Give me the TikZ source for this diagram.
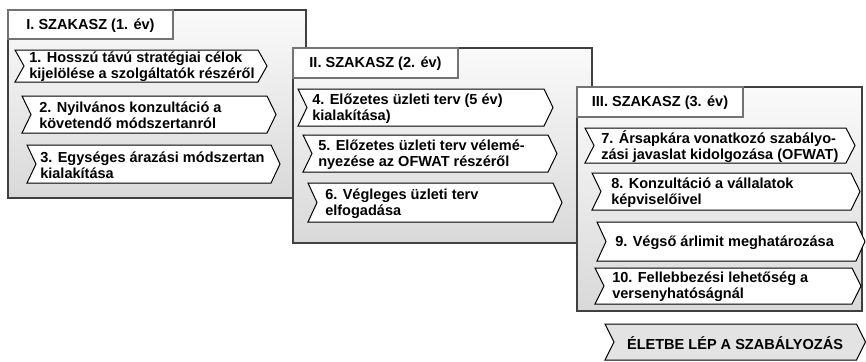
\documentclass[tikz,border=0pt]{standalone}
\usepackage{fontspec}
\setmainfont{Liberation Sans}
\begin{document}
\begin{tikzpicture}[x=0.75pt,y=-0.75pt,
  panel/.style={draw=black!75, line width=0.8pt, top color=gray!4, bottom color=gray!30},
  headbox/.style={draw=black!55, line width=0.8pt, fill=white},
  headtext/.style={font=\fontsize{10.9}{12}\selectfont\bfseries, inner sep=0pt},
  chev/.style={draw=black, line width=0.75pt, fill=white, line join=miter},
  chevtext/.style={font=\fontsize{10.9}{12}\selectfont\bfseries, anchor=west, align=left, inner sep=0pt},
  finalchev/.style={chev, fill=gray!22}
]
\useasboundingbox (0,0) rectangle (866,361);

% arrow-shaped step box: name, left, top, tip x, bottom, text x, text
\newcommand\chevbox[7]{%
  \draw[chev] (#2,#3) -- ({#4-9},#3) -- (#4,{(#3+#5)/2}) -- ({#4-9},#5)
    -- (#2,#5) -- ({#2+9},{(#3+#5)/2}) -- cycle;
  \node[chevtext] (#1) at (#6,{(#3+#5)/2+1}) {#7};
}
% stage panel with its heading tab: name, left, top, right, bottom, tab right, tab bottom, heading
\newcommand\stagepanel[8]{%
  \draw[panel] (#2,#3) rectangle (#4,#5);
  \draw[headbox] (#2,#3) rectangle (#6,#7);
  \node[headtext] (#1) at ({(#2+#6)/2},{(#3+#7)/2+1}) {#8};
}

% stage 1
\stagepanel{s1}{8}{10}{306}{198}{173}{39}{I. SZAKASZ (1. év)}
\chevbox{t1}{15}{50}{267}{82}{29}{1. Hosszú távú stratégiai célok\\kijelölése a szolgáltatók részéről}
\chevbox{t2}{22}{96}{276}{133}{39}{2. Nyilvános konzultáció a\\követendő módszertanról}
\chevbox{t3}{27}{145}{280}{183}{40}{3. Egységes árazási módszertan\\kialakítása}

% stage 2
\stagepanel{s2}{293}{48}{592}{243}{458}{78}{II. SZAKASZ (2. év)}
\chevbox{t4}{298}{89}{553}{126}{312}{4. Előzetes üzleti terv (5 év)\\kialakítása)}
\chevbox{t5}{303}{135}{557}{172}{318}{5. Előzetes üzleti terv vélemé-\\nyezése az OFWAT részéről}
\chevbox{t6}{308}{183}{562}{222}{325}{6. Végleges üzleti terv\\elfogadása}

% stage 3
\stagepanel{s3}{577}{87}{862}{311}{743}{117}{III. SZAKASZ (3. év)}
\chevbox{t7}{585}{128}{855}{163}{601}{7. Ársapkára vonatkozó szabályo-\\zási javaslat kidolgozása (OFWAT)}
\chevbox{t8}{592}{173}{860}{210}{611}{8. Konzultáció a vállalatok\\képviselőivel}
\chevbox{t9}{597}{222}{865}{261}{615}{9. Végső árlimit meghatározása}
\chevbox{t10}{595}{268}{861}{304}{612}{10. Fellebbezési lehetőség a\\versenyhatóságnál}

% outcome
\draw[finalchev] (605,324) -- (856.5,324) -- (865.5,342) -- (856.5,360) -- (605,360) -- (614,342) -- cycle;
\node[headtext] (fin) at (735,343) {ÉLETBE LÉP A SZABÁLYOZÁS};
\end{tikzpicture}
\end{document}
